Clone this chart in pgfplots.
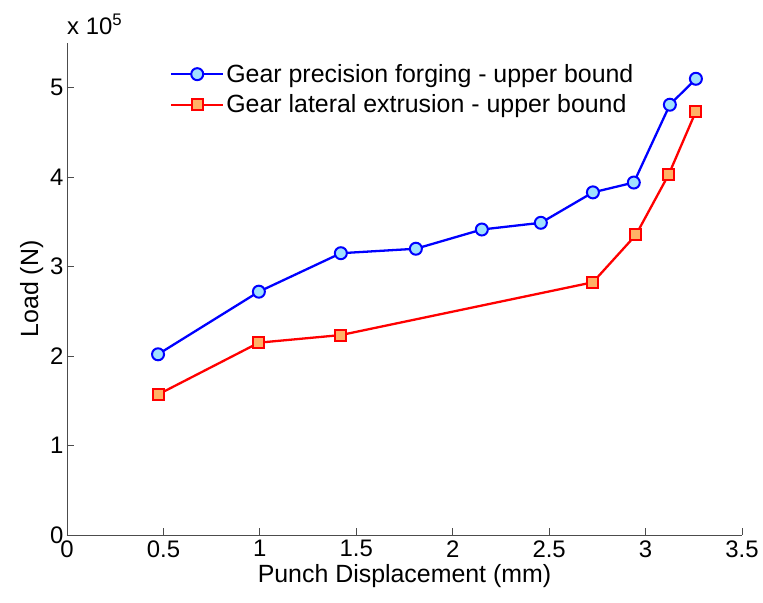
\documentclass[border=0pt]{standalone}
\usepackage{fontspec}
\setmainfont{Liberation Sans}
\usepackage{pgfplots}
\pgfplotsset{compat=1.18}
\definecolor{cfill}{RGB}{160,225,255}
\definecolor{sfill}{RGB}{255,178,102}
\begin{document}
\begin{tikzpicture}
\begin{axis}[
    name=ax,
    scale only axis,
    width=675bp, height=492bp,
    xmin=0, xmax=3.5, ymin=0, ymax=5.5e5,
    xtick={0,0.5,...,3.5},
    ytick={0,1e5,2e5,3e5,4e5,5e5},
    axis x line*=bottom, axis y line*=left,
    axis line style={draw=black!70, line width=0.8pt, -},
    tick style={draw=black!70, line width=0.8pt},
    tick align=inside, major tick length=7bp,
    scaled y ticks=base 10:-5,
    ytick scale label code/.code={x 10\textsuperscript{5}},
    every y tick scale label/.style={at={(rel axis cs:0,1)}, anchor=south west, inner sep=0pt, yshift=8bp, font=\fontsize{24}{28}\selectfont},
    /pgf/number format/assume math mode=true,
    tick label style={font=\fontsize{24}{28}\selectfont},
    label style={font=\fontsize{25}{29}\selectfont},
    xticklabel style={yshift=-2bp},
    xlabel={Punch Displacement (mm)},
    ylabel={Load (N)},
    legend style={draw=none, fill=none, at={(0.148,0.965)}, anchor=north west,
        font=\fontsize{25}{29}\selectfont, row sep=7bp},
    legend cell align=left,
    legend image code/.code={\draw[mark repeat=2, mark phase=2, #1] plot coordinates {(0bp,0bp) (26bp,0bp) (52bp,0bp)};},
]
\addplot[blue, line width=2.3pt, mark=*, mark size=6bp, mark options={fill=cfill, draw=blue, line width=2pt}]
coordinates {(0.472,2.02e5) (0.995,2.72e5) (1.420,3.15e5) (1.809,3.20e5) (2.151,3.415e5) (2.457,3.49e5) (2.727,3.83e5) (2.939,3.94e5) (3.126,4.81e5) (3.261,5.10e5)};
\addlegendentry{Gear precision forging - upper bound}
\addplot[red, line width=2.3pt, mark=square*, mark size=5.5bp, mark options={fill=sfill, draw=red, line width=2pt}]
coordinates {(0.472,1.57e5) (0.995,2.15e5) (1.420,2.235e5) (2.727,2.825e5) (2.950,3.355e5) (3.120,4.03e5) (3.261,4.735e5)};
\addlegendentry{Gear lateral extrusion - upper bound}
\end{axis}
\pgfresetboundingbox
\path[use as bounding box] ([xshift=-67bp,yshift=-68bp]ax.south west) rectangle ([xshift=21bp,yshift=43bp]ax.north east);
\end{tikzpicture}
\end{document}
